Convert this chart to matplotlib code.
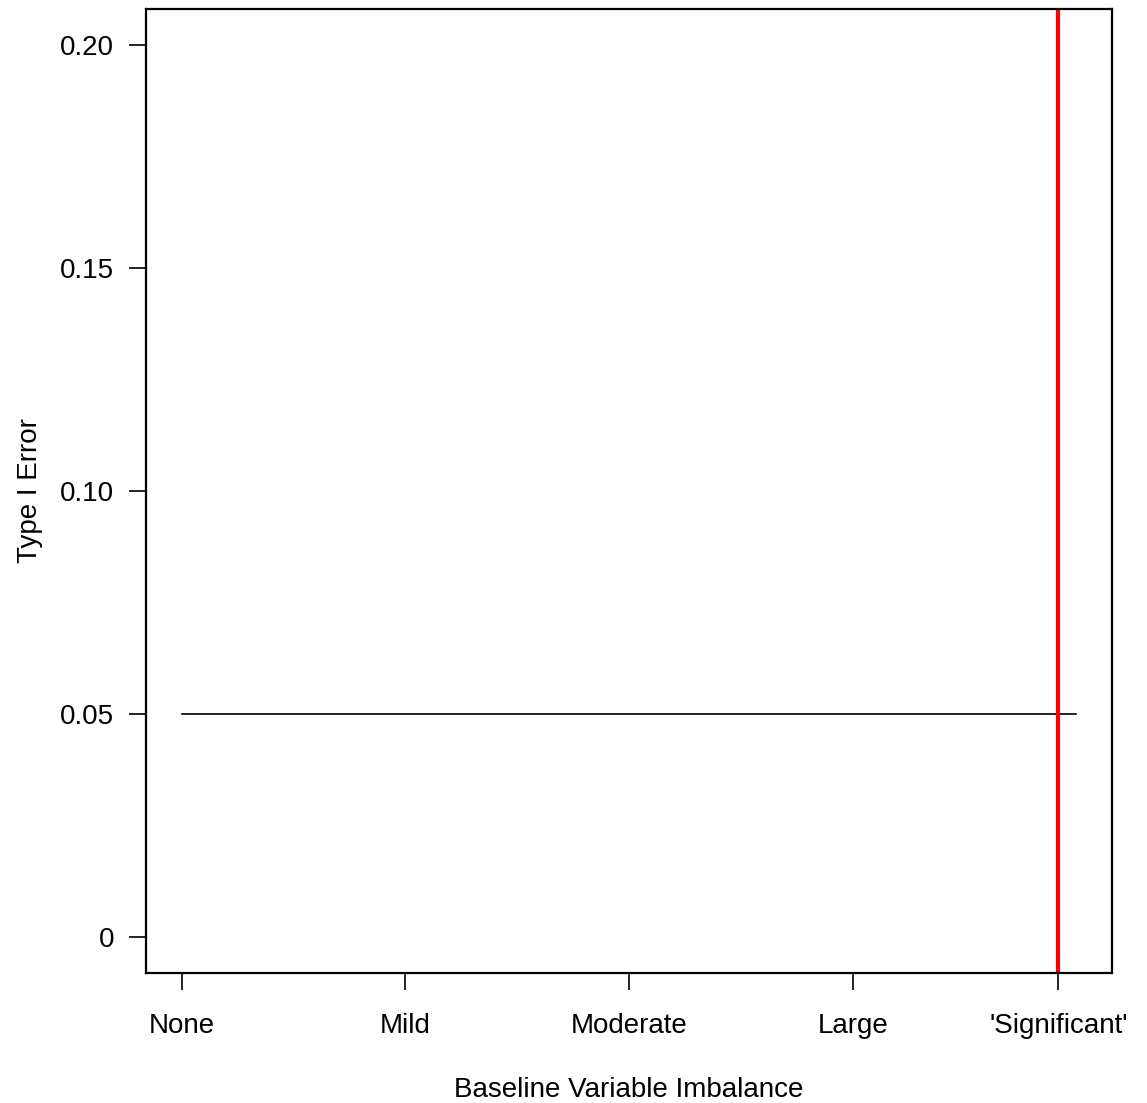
import matplotlib.pyplot as plt

plt.rcParams['font.family'] = ['Liberation Sans', 'DejaVu Sans']

# categories along the x axis
categories = ['None', 'Mild', 'Moderate', 'Large', "'Significant'"]
cat_pos = [1, 2, 3, 4, 4.92]
yticks = [0, 0.05, 0.10, 0.15, 0.20]
ytick_labels = ['0', '0.05', '0.10', '0.15', '0.20']
# nominal alpha line and "significant" marker
alpha_x = [1, 5]
alpha_y = [0.05, 0.05]
sig_x = 4.92

fig = plt.figure(figsize=(11.47, 11.03), dpi=100)
ax = fig.add_axes([0.1273, 0.1179, 0.8422, 0.8739])

ax.plot(alpha_x, alpha_y, color='black', lw=1.2)
ax.axvline(sig_x, color='red', lw=3)

ax.set_xlim(1 - 0.16, 5 + 0.16)
ax.set_ylim(-0.008, 0.208)
ax.set_xticks(cat_pos)
ax.set_xticklabels(categories)
ax.set_yticks(yticks)
ax.set_yticklabels(ytick_labels)

for s in ax.spines.values():
    s.set_linewidth(1.6)
ax.tick_params(axis='both', direction='out', length=12, width=1.2, labelsize=20)
ax.tick_params(axis='x', pad=17)
ax.tick_params(axis='y', pad=11)

ax.set_xlabel('Baseline Variable Imbalance', fontsize=20, labelpad=27)
ax.set_ylabel('Type I Error', fontsize=20, labelpad=12)

plt.savefig('out.png')
